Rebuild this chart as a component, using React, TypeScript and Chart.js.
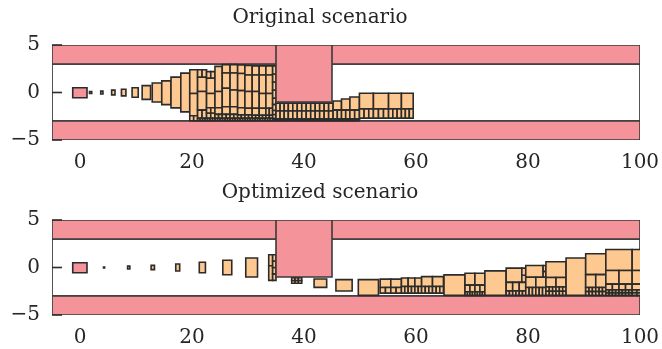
import React, { useEffect, useRef } from 'react';
import { Chart, registerables } from 'chart.js';

Chart.register(...registerables);

// A cell is [x0, x1, y0, y1, columns, rows]; columns/rows split it into an even grid.
type Cell = [number, number, number, number, number?, number?];

const X_TICKS = [0, 20, 40, 60, 80, 100];
const Y_TICKS = [-5, 0, 5];
const X_MIN = -5;
const X_MAX = 100;
const Y_MIN = -5;
const Y_MAX = 5;

const TITLES = ['Original scenario', 'Optimized scenario'];

const WALLS: Cell[] = [
  [-5, 100, 3, 5],
  [-5, 100, -5, -3],
];
const FREE_SPACE: Cell = [-5, 100, -3, 3];
const OBSTACLE: Cell = [35, 45, -1, 5];
const START: Cell = [-1.3, 1.25, -0.55, 0.5];

const ORIGINAL_CELLS: Cell[] = [
  [1.7, 2.1, -0.1, 0.1],
  [3.7, 4.1, -0.15, 0.15],
  [5.65, 6.25, -0.25, 0.25],
  [7.4, 8.2, -0.35, 0.35],
  [9.3, 10.4, -0.5, 0.5],
  [11.1, 12.6, -0.72, 0.72],
  [12.9, 14.6, -1.0, 1.0],
  [14.6, 16.25, -1.28, 1.22],
  [16.25, 18.0, -1.62, 1.62],
  [18.0, 19.6, -2.04, 2.04],
  [19.6, 21.0, -0.1, 2.4],
  [19.6, 21.0, -2.45, -0.1],
  [19.6, 21.0, -2.98, -2.45, 2, 1],
  [21.0, 22.6, 1.6, 2.4, 2, 1],
  [21.0, 22.6, 0.1, 1.6],
  [21.0, 22.6, -1.85, 0.1],
  [21.0, 22.6, -2.72, -1.85, 2, 1],
  [22.6, 24.1, 1.5, 2.2, 2, 1],
  [22.6, 24.1, -0.1, 1.5],
  [22.6, 24.1, -1.6, -0.1],
  [22.6, 24.1, -2.72, -1.6, 2, 2],
  [24.1, 25.4, 0.1, 2.75],
  [24.1, 25.4, -1.6, 0.1],
  [24.1, 25.4, -2.3, -1.6],
  [24.1, 25.4, -2.72, -2.3, 2, 1],
  [25.4, 26.8, 2.05, 2.93],
  [25.4, 26.8, 0.45, 2.05],
  [25.4, 26.8, -1.5, 0.45],
  [25.4, 26.8, -2.3, -1.5],
  [25.4, 26.8, -2.72, -2.3, 2, 1],
  [26.8, 28.15, 2.05, 2.93],
  [26.8, 28.15, 0.27, 2.05],
  [26.8, 28.15, -1.5, 0.27],
  [26.8, 28.15, -2.3, -1.5],
  [26.8, 28.15, -2.72, -2.3, 2, 1],
  [28.15, 29.45, 2.0, 2.9],
  [28.15, 29.45, 0.2, 2.0],
  [28.15, 29.45, -1.6, 0.2],
  [28.15, 29.45, -2.35, -1.6],
  [28.15, 29.45, -2.72, -2.35, 2, 1],
  [29.45, 30.75, 1.85, 2.85],
  [29.45, 30.75, 0.1, 1.85],
  [29.45, 30.75, -1.65, 0.1],
  [29.45, 30.75, -2.35, -1.65],
  [29.45, 30.75, -2.72, -2.35, 2, 1],
  [30.75, 32.0, 1.85, 2.8],
  [30.75, 32.0, 0.1, 1.85],
  [30.75, 32.0, -1.65, 0.1],
  [30.75, 32.0, -2.4, -1.65],
  [30.75, 32.0, -2.72, -2.4, 2, 1],
  [32.0, 33.2, 1.85, 2.8],
  [32.0, 33.2, -0.1, 1.85],
  [32.0, 33.2, -1.65, -0.1],
  [32.0, 33.2, -2.4, -1.65],
  [32.0, 33.2, -2.72, -2.4, 2, 1],
  [33.2, 34.4, 1.85, 2.8],
  [33.2, 34.4, -0.1, 1.85],
  [33.2, 34.4, -1.65, -0.1],
  [33.2, 34.4, -2.4, -1.65, 2, 1],
  [33.2, 34.4, -2.72, -2.4, 2, 1],
  [34.4, 35.0, -0.6, 2.8, 1, 4],
  [34.4, 35.0, -1.9, -0.6, 1, 2],
  [34.4, 35.0, -2.72, -1.9, 1, 2],
  [21.0, 34.4, -2.98, -2.72, 30, 1],
  [35.0, 37.2, -1.95, -1.12, 3, 1],
  [35.0, 37.2, -2.8, -1.95, 3, 1],
  [37.2, 45.2, -1.95, -1.12, 10, 1],
  [37.2, 45.2, -2.8, -1.95, 10, 1],
  [45.2, 46.7, -1.86, -0.9],
  [45.2, 46.7, -2.8, -1.86, 2, 1],
  [46.7, 48.2, -1.86, -0.69],
  [46.7, 48.2, -2.8, -1.86, 2, 1],
  [48.2, 49.9, -1.86, -0.48],
  [48.2, 49.9, -2.8, -1.86, 2, 1],
  [34.4, 49.9, -2.98, -2.8, 36, 1],
  [49.9, 52.4, -1.72, -0.08],
  [49.9, 52.4, -2.7, -1.72, 3, 1],
  [52.4, 55.1, -1.72, -0.08],
  [52.4, 55.1, -2.7, -1.72, 3, 1],
  [55.1, 57.4, -1.72, -0.08],
  [55.1, 57.4, -2.7, -1.72, 3, 1],
  [57.4, 59.5, -1.72, -0.08],
  [57.4, 59.5, -2.7, -1.72, 3, 1],
];

const OPTIMIZED_CELLS: Cell[] = [
  [4.2, 4.4, -0.06, 0.06],
  [8.5, 8.9, -0.15, 0.15],
  [12.7, 13.3, -0.22, 0.22],
  [17.1, 17.8, -0.37, 0.37],
  [21.3, 22.4, -0.55, 0.55],
  [25.5, 27.1, -0.76, 0.76],
  [29.6, 31.7, -1.0, 1.0],
  [33.7, 34.4, 0.19, 1.35],
  [33.7, 34.4, -1.35, 0.19],
  [34.4, 35.0, -1.35, 1.35, 1, 4],
  [37.8, 39.6, -1.65, -1.08, 3, 2],
  [41.8, 44.05, -2.09, -1.21],
  [45.7, 48.6, -2.48, -1.28],
  [49.7, 53.3, -2.93, -1.28],
  [53.6, 57.4, -2.1, -1.22, 2, 1],
  [53.6, 57.4, -2.7, -2.1, 4, 1],
  [57.4, 61.0, -2.0, -1.1, 3, 1],
  [57.4, 61.0, -2.7, -2.0, 6, 1],
  [61.0, 64.9, -2.0, -0.96, 2, 1],
  [61.0, 64.9, -2.7, -2.0, 6, 1],
  [65.0, 68.75, -2.93, -0.78],
  [68.75, 72.3, -1.85, -0.6, 2, 1],
  [68.75, 72.3, -2.55, -1.85, 4, 1],
  [68.75, 72.3, -2.93, -2.55, 8, 1],
  [72.3, 76.1, -2.93, -0.36],
  [76.1, 78.9, -1.57, -0.07],
  [78.9, 79.6, -1.57, -0.07, 1, 2],
  [76.1, 79.6, -2.46, -1.57, 3, 1],
  [76.1, 79.6, -2.93, -2.46, 6, 1],
  [79.6, 82.7, -1.03, 0.21],
  [82.7, 83.2, -1.03, 0.21, 1, 2],
  [79.6, 83.2, -2.1, -1.03, 2, 1],
  [79.6, 83.2, -2.93, -2.1, 6, 1],
  [83.2, 86.8, -1.05, 0.6],
  [83.2, 86.8, -2.05, -1.05, 2, 1],
  [83.2, 86.8, -2.93, -2.05, 6, 2],
  [86.8, 90.3, -2.93, 1.0],
  [90.3, 93.9, -0.75, 1.45],
  [90.3, 93.9, -2.1, -0.75, 2, 1],
  [90.3, 93.9, -2.93, -2.1, 6, 2],
  [93.9, 98.6, -0.32, 1.9],
  [93.9, 98.6, -1.75, -0.32, 2, 1],
  [93.9, 98.6, -2.35, -1.75, 4, 1],
  [93.9, 98.6, -2.93, -2.35, 8, 2],
  [98.6, 102, -0.32, 1.9],
  [98.6, 102, -1.75, -0.32],
  [98.6, 102, -2.35, -1.75, 2, 1],
  [98.6, 102, -2.93, -2.35, 4, 2],
];

const FONT_FAMILY = '"DejaVu Serif", serif';
const TEXT_COLOR = '#262626';
const EDGE = '#2b2b2b';
const WALL_FILL = '#f5939a';
const BOX_FILL = '#fec891';

function splitCell(cell: Cell): [number, number, number, number][] {
  const [x0, x1, y0, y1, nx = 1, ny = 1] = cell;
  const out: [number, number, number, number][] = [];
  for (let i = 0; i < nx; i++) {
    for (let j = 0; j < ny; j++) {
      out.push([
        x0 + ((x1 - x0) * i) / nx,
        x0 + ((x1 - x0) * (i + 1)) / nx,
        y0 + ((y1 - y0) * j) / ny,
        y0 + ((y1 - y0) * (j + 1)) / ny,
      ]);
    }
  }
  return out;
}

function rectDataset(r: [number, number, number, number], fillColor: string | null, edge: string, width: number) {
  const [x0, x1, y0, y1] = r;
  return {
    data: [
      { x: x0, y: y0 },
      { x: x1, y: y0 },
      { x: x1, y: y1 },
      { x: x0, y: y1 },
      { x: x0, y: y0 },
    ],
    backgroundColor: fillColor ?? 'rgba(0,0,0,0)',
    borderColor: edge,
    borderWidth: width,
    fill: fillColor ? 'shape' : false,
    pointRadius: 0,
    pointHoverRadius: 0,
    tension: 0,
    borderJoinStyle: 'miter' as const,
    borderCapStyle: 'square' as const,
  };
}

function buildDatasets(cells: Cell[]) {
  // listed in painting order: first is at the bottom
  const layers: any[] = [];
  layers.push(rectDataset(FREE_SPACE as any, null, EDGE, 1.6));
  WALLS.forEach((w) => layers.push(rectDataset(w as any, WALL_FILL, '#3a3a3a', 1.6)));
  layers.push(rectDataset(START as any, WALL_FILL, EDGE, 1.6));
  cells.forEach((c) => splitCell(c).forEach((r) => layers.push(rectDataset(r, BOX_FILL, EDGE, 1.6))));
  layers.push(rectDataset(OBSTACLE as any, WALL_FILL, '#3a3a3a', 1.6));
  const n = layers.length;
  return layers.map((d, i) => ({ ...d, order: n - i }));
}

const inwardTicks = {
  id: 'inwardTicks',
  afterDatasetsDraw(chart: any) {
    const { ctx, chartArea, scales } = chart;
    ctx.save();
    ctx.strokeStyle = EDGE;
    ctx.lineWidth = 1.6;
    for (const v of Y_TICKS) {
      const py = scales.y.getPixelForValue(v);
      ctx.beginPath();
      ctx.moveTo(chartArea.left, py);
      ctx.lineTo(chartArea.left + 10, py);
      ctx.stroke();
    }
    ctx.restore();
  },
};

function ScenarioChart({ title, cells, height, axisHeight }: { title: string; cells: Cell[]; height: number; axisHeight: number }) {
  const ref = useRef<HTMLCanvasElement>(null);
  useEffect(() => {
    if (!ref.current) return;
    const font = { family: FONT_FAMILY, size: 20, weight: 'normal' as const };
    const chart = new Chart(ref.current, {
      type: 'line',
      data: { datasets: buildDatasets(cells) as any },
      options: {
        animation: false,
        responsive: false,
        events: [],
        layout: { padding: { left: 0, right: 22, top: 0, bottom: 0 } },
        plugins: {
          legend: { display: false },
          tooltip: { enabled: false },
          title: {
            display: true,
            text: title,
            color: TEXT_COLOR,
            font,
            padding: { top: 6, bottom: 15 },
          },
        },
        scales: {
          x: {
            type: 'linear',
            min: X_MIN,
            max: X_MAX,
            grid: { display: false, drawTicks: false },
            border: { display: false },
            ticks: { color: TEXT_COLOR, font, padding: 11, maxRotation: 0, autoSkip: false },
            afterBuildTicks: (s: any) => {
              s.ticks = X_TICKS.map((value) => ({ value }));
            },
            afterFit: (s: any) => {
              s.height = axisHeight;
              s.paddingLeft = 0;
              s.paddingRight = 0;
            },
          },
          y: {
            type: 'linear',
            min: Y_MIN,
            max: Y_MAX,
            grid: { display: false, drawTicks: false },
            border: { display: false },
            ticks: {
              color: TEXT_COLOR,
              font,
              padding: 12,
              autoSkip: false,
              callback: (v: any) => (Number(v) < 0 ? '\u2212' + Math.abs(Number(v)) : String(v)),
            },
            afterBuildTicks: (s: any) => {
              s.ticks = Y_TICKS.map((value) => ({ value }));
            },
            afterFit: (s: any) => {
              s.width = 52;
            },
          },
        },
      },
      plugins: [inwardTicks],
    });
    return () => chart.destroy();
  }, [title, cells, height, axisHeight]);
  return <canvas ref={ref} width={662} height={height} style={{ display: 'block' }} />;
}

export default function App() {
  return (
    <div style={{ position: 'absolute', left: 0, top: 0, width: 662, height: 349, background: '#fff' }}>
      <ScenarioChart title={TITLES[0]} cells={ORIGINAL_CELLS} height={175} axisHeight={35} />
      <ScenarioChart title={TITLES[1]} cells={OPTIMIZED_CELLS} height={174} axisHeight={34} />
    </div>
  );
}
